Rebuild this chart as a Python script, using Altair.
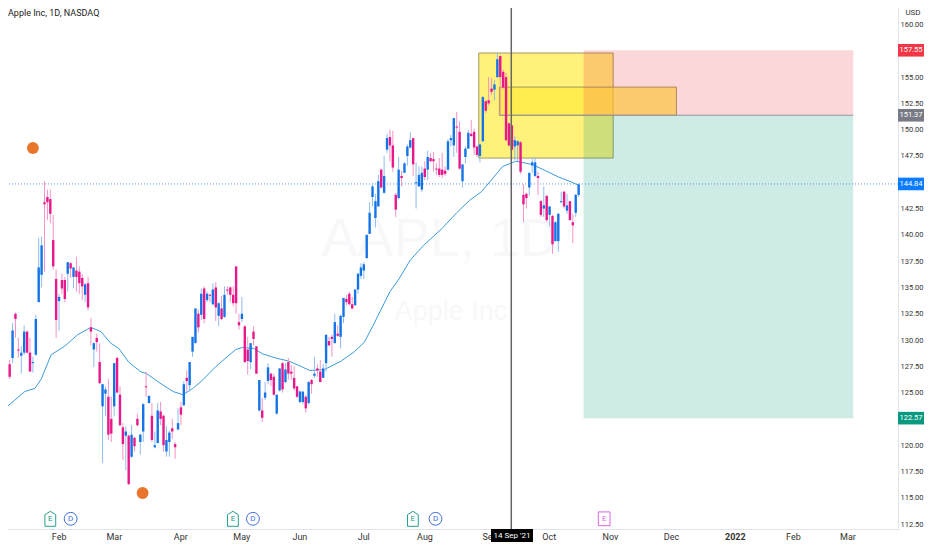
import altair as alt
import pandas as pd

# (open, high, low, close) of each daily bar
ohlc = [
(128.9,131.6,127.9,131.0),(127.7,128.1,126.3,126.5),(128.3,131.6,127.8,130.9),(132.5,132.6,130.2,132.0),
(129.1,130.2,128.3,129.0),(128.5,129.4,126.8,128.8),(128.8,131.4,128.6,130.8),(130.8,130.9,128.7,128.8),
(128.8,130.2,127.0,127.0),(127.8,128.4,126.9,127.9),(128.6,132.4,128.5,132.0),(133.6,139.7,133.6,136.9),
(136.2,139.8,135.0,139.0),(143.1,145.1,136.5,142.9),(143.6,144.3,141.4,143.1),(143.4,144.3,141.1,142.0),
(139.5,141.9,136.7,137.0),(135.8,136.7,130.2,131.9),(133.7,134.4,130.9,134.1),(135.7,136.3,134.4,134.9),
(135.7,136.0,133.6,133.9),(136.3,137.4,134.6,137.4),(137.3,137.4,135.9,136.8),(136.0,136.9,134.9,136.9),
(136.6,137.9,134.6,136.0),(136.5,137.0,134.4,135.4),(135.9,136.3,133.8,135.1),(134.3,135.4,133.6,135.3),
(135.4,136.0,132.8,133.1),(131.2,132.1,129.5,130.8),(129.1,129.8,127.4,129.7),(130.2,130.6,128.9,129.8),
(127.9,129.7,125.8,125.9),(123.7,125.8,118.3,125.8),(124.9,125.6,122.8,125.3),(124.6,126.3,120.5,121.0),
(122.5,124.6,120.3,121.1),(123.7,127.8,122.8,127.8),(128.3,128.4,125.0,125.0),(124.8,125.6,121.8,121.9),
(121.7,122.1,118.6,120.1),(120.9,121.8,117.6,121.3),(120.9,121.0,116.2,116.3),(118.9,121.9,118.8,121.0),
(120.7,120.8,119.4,119.9),(122.5,123.0,121.8,121.9),(120.3,121.1,119.1,121.0),(121.3,124.0,120.3,123.9),
(125.6,127.0,124.6,125.5),(124.0,124.7,124.0,124.7),(122.8,124.0,120.3,120.5),(119.8,121.3,119.7,120.0),
(120.2,124.0,120.2,123.3),(123.2,124.1,121.9,122.5),(122.8,122.9,119.4,120.0),(119.4,121.8,118.9,120.5),
(120.3,121.4,118.9,121.2),(121.6,122.5,120.6,121.3),(120.1,120.3,118.7,119.8),(121.5,123.5,121.4,122.1),
(123.6,124.1,121.9,122.9),(123.8,126.1,123.7,125.8),(126.4,127.1,125.1,126.1),(125.7,127.9,125.1,127.9),
(128.9,130.3,128.4,130.3),(129.7,133.0,129.7,133.0),(132.5,132.9,130.7,131.2),(132.4,134.9,131.9,134.4),
(134.9,135.1,131.6,132.0),(133.8,134.6,133.6,134.4),(134.3,134.4,133.6,134.2),(133.4,135.4,133.3,134.8),
(135.0,135.5,131.8,133.1),(132.3,133.6,131.3,133.5),(133.0,134.2,131.9,132.0),(132.2,135.1,132.1,134.3),
(134.8,135.1,134.3,134.7),(135.0,135.1,133.6,134.3),(134.3,135.1,133.2,133.5),(137.0,137.0,132.5,133.5),
(131.7,132.5,131.0,131.4),(132.0,134.1,131.7,132.5),(131.3,131.4,127.8,127.9),(129.1,130.3,126.7,128.0),
(127.9,129.7,127.2,129.7),(130.8,131.3,129.5,130.1),(129.4,129.4,126.8,126.8),(123.3,126.2,123.2,126.2),
(123.3,124.5,122.2,122.6),(124.5,126.0,124.3,125.0),(126.1,127.8,125.8,127.4),(126.8,126.9,125.6,126.2),
(126.5,126.8,124.7,124.8),(123.0,124.8,122.9,124.8),(125.2,127.3,125.1,127.3),(127.8,127.9,125.0,125.3),
(126.0,127.8,125.9,127.2),(127.9,128.3,126.2,126.8),(127.0,127.6,126.2,126.8),(126.4,127.5,125.2,125.4),
(125.6,125.6,124.5,124.6),(124.1,125.2,124.0,125.1),(124.1,125.1,123.9,125.1),(124.6,124.8,123.1,123.5),
(124.0,126.1,123.9,126.0),(126.2,126.3,124.9,125.8),(126.6,128.4,126.4,126.8),(127.3,127.7,126.5,127.1),
(127.0,128.1,126.0,126.0),(126.4,127.7,126.4,127.3),(127.8,130.5,127.0,130.5),(129.9,130.3,129.4,129.5),
(130.3,130.5,128.4,130.1),(129.7,132.5,129.7,131.7),(130.6,131.4,130.3,130.4),(130.3,132.4,129.2,132.3),
(132.2,134.0,131.6,134.0),(133.9,134.3,133.3,133.6),(134.4,134.6,133.3,133.4),(133.4,134.1,132.9,133.0),
(133.3,134.8,133.3,134.8),(134.8,136.4,134.4,136.3),(136.1,137.3,135.8,136.9),(136.6,137.4,135.8,137.2),
(137.8,140.0,137.7,140.0),(140.1,143.1,140.1,142.1),(143.6,144.9,142.7,144.6),(141.6,143.9,140.7,143.2),
(142.7,145.7,142.7,145.1),(146.2,146.3,144.4,144.5),(144.0,147.5,143.9,145.6),(148.1,149.6,147.8,149.2),
(149.3,150.0,147.0,148.5),(148.5,149.9,146.0,146.4),(143.8,144.0,141.7,142.4),(143.5,147.4,143.4,146.2),
(145.6,146.1,144.6,145.4),(145.9,146.9,145.9,146.8),(147.5,148.6,146.6,148.4),(148.3,149.8,148.2,149.0),
(149.2,149.2,145.6,146.7),(144.9,146.9,142.5,145.0),(144.6,146.5,144.6,145.7),(144.3,146.5,144.1,145.9),
(146.3,147.0,145.2,145.5),(146.2,148.0,145.2,147.4),(147.3,147.8,146.9,147.0),(147.2,147.9,146.0,147.0),
(146.3,146.8,145.7,146.2),(146.3,147.3,145.5,145.7),(146.2,147.8,145.4,145.7),(146.1,146.5,145.6,145.8),
(146.2,149.1,146.1,148.9),(149.0,149.5,148.4,149.2),(148.5,151.1,147.4,151.1),(150.3,151.7,147.8,150.2),
(149.8,150.8,146.2,146.3),(145.1,146.7,144.5,146.7),(147.4,148.4,146.8,148.2),(148.2,150.0,148.2,149.7),
(149.6,150.9,149.3,149.4),(149.8,150.1,147.6,148.3),(148.4,148.5,147.4,147.6),(147.5,148.7,146.9,148.6),
(148.9,153.2,148.8,153.1),(152.7,152.8,151.6,151.8),(152.8,155.0,152.3,152.5),(153.9,154.9,153.3,153.6),
(153.8,154.7,152.8,154.3),(155.0,157.3,154.9,156.7),(157.0,157.1,151.4,155.0),(155.5,155.7,153.9,154.0),
(155.0,155.4,148.9,149.0),(150.6,150.7,148.4,148.5),(150.4,150.4,148.1,148.1),(148.4,149.4,147.1,149.0),
(148.5,149.0,147.0,148.9),(148.8,148.9,145.8,146.0),(143.8,144.8,141.2,142.9),(143.9,144.0,142.5,143.5),
(144.5,145.9,143.7,145.9),(146.6,147.3,145.9,146.9),(145.6,147.4,145.5,146.9),(145.6,146.0,143.8,145.4),
(143.2,143.3,141.7,141.9),(142.5,144.6,141.7,142.8),(143.7,143.8,141.2,141.4),(141.9,142.7,140.8,142.7),
(141.8,141.9,138.2,139.1),(139.4,141.3,139.4,141.2),(139.4,142.1,138.4,142.0),(143.1,144.1,143.0,143.2),
(144.1,144.2,142.5,142.7),(142.3,143.9,142.0,142.8),(143.2,143.2,141.4,141.4),(141.2,142.0,139.2,140.9),
(142.1,143.9,141.7,143.8),(143.8,144.9,143.6,144.8),
]

ma_bar = [-0.6,2.8,6.2,9.7,11.9,15.3,19.9,24.4,29,32.4,35.8,38.6,42,46,48.2,52.8,57.3,60.7,64.1,67.5,
          72.1,75.5,78.9,81.2,85.1,88,92.5,97.1,100.5,104.4,109.5,115.2,119.8,123.2,126.6,132,135.1,139,
          143.6,149.9,155,159.5,163.5,166.9,170.8,175.3,180.9,185.6,190.1,194.7,197]
ma_val = [123.5,124.3,125.1,125.4,126.3,128.6,129.4,130.5,131.2,130.8,129.7,129.2,127.9,127.0,126.8,125.9,
          125.1,124.8,125.4,126.2,127.5,128.3,129.1,129.3,129.2,128.7,128.3,128.0,127.6,127.1,127.2,128.0,
          128.9,129.8,131.6,134.6,135.8,137.6,139.0,140.6,142.1,143.3,144.1,145.2,146.5,147.0,146.7,146.1,
          145.5,145.0,144.7]

month_bars = [17.9,36.9,59.8,80.8,100.8,122.8,143.9,166.3,186.7,207.8,228.8,250.8,270.8,289.6]
month_labels = ["Feb","Mar","Apr","May","Jun","Jul","Aug","Sep","Oct","Nov","Dec","2022","Feb","Mar"]
price_ticks = [112.5+2.5*k for k in range(20)]

target_top = 157.55
entry = 151.37
stop = 122.57
last = 144.84
yellow_boxes = [(162.6,208.9,157.29,147.3),(169.7,230.7,154.05,151.37)]
zones = [(198.7,291.6,157.55,151.37,"#f23645"),(198.7,291.6,151.37,122.57,"#089981")]
cursor_bar = 173.8
dots_bar = [9.0,46.8]
dots_price = [148.26,115.45]
earn_bars = [15.0,77.9,139.9]
div_bars = [22.0,84.8,147.7]
next_earn_bar = [205.8]
marker_price = 113.0
tags = [(157.55,"#f23645"),(151.37,"#787b86"),(144.84,"#0a7cff"),(122.57,"#089981")]

FONT = "Roboto"
xs = alt.Scale(domain=[2.146,305.3], nice=False, zero=False)
ys = alt.Scale(domain=[112.03,161.57], nice=False, zero=False)

x_axis = alt.Axis(values=month_bars, title=None, grid=False, ticks=False, domainColor="#e0e3eb",
    labelExpr="%s[indexof(%s, datum.value)]" % (month_labels, month_bars),
    labelFont=FONT, labelFontSize=9, labelColor="#333333", labelPadding=3, labelOverlap=False,
    labelFlush=False, labelBound=False,
    labelFontWeight={"condition":{"test":"datum.value == 250.8","value":"bold"},"value":"normal"})
y_axis = alt.Axis(values=price_ticks, title=None, grid=False, ticks=False, orient="right", format=".2f",
    domainColor="#e0e3eb", labelFont=FONT, labelFontSize=7.5, labelColor="#333333", labelPadding=2,
    labelOverlap=False, labelFlush=False, labelBound=False)

def X(f): return alt.X(f, type="quantitative", scale=xs, axis=x_axis)
def X2(f): return alt.X2(f)
def Y(f): return alt.Y(f, type="quantitative", scale=ys, axis=y_axis)

bars = pd.DataFrame(ohlc, columns=["open","high","low","close"])
bars["bar"] = range(len(bars))
is_up = "datum.close >= datum.open"

wm = pd.DataFrame({"bar":[149.3,153.0],"p":[139.5,132.7],"t":["AAPL, 1D","Apple Inc"],"s":[54,27]})
base = alt.Chart(wm).mark_text(font="Liberation Sans", color="#f8f8fa", align="center", baseline="middle").encode(
    x=X("bar"), y=Y("p"), text="t:N", size=alt.Size("s:Q", scale=None, legend=None))

yb = pd.DataFrame(yellow_boxes, columns=["a","b","t","u"])
yellow = alt.Chart(yb).mark_rect(fill="#ffeb3b", fillOpacity=0.68, stroke="#8f8a58", strokeWidth=1, strokeOpacity=0.85).encode(
    x=X("a"), x2=X2("b"), y=Y("t"), y2=alt.Y2("u"))
zd = pd.DataFrame(zones, columns=["a","b","t","u","c"])
zone = alt.Chart(zd).mark_rect(opacity=0.2).encode(
    x=X("a"), x2=X2("b"), y=Y("t"), y2=alt.Y2("u"), color=alt.Color("c:N", scale=None, legend=None))
entry_line = alt.Chart(pd.DataFrame({"a":[169.7],"b":[291.6],"p":[entry]})).mark_rule(color="#9598a1", size=1).encode(
    x=X("a"), x2=X2("b"), y=Y("p"))
last_line = alt.Chart(pd.DataFrame({"p":[last]})).mark_rule(color="#2979d8", size=1, strokeDash=[1,2], opacity=0.75).encode(y=Y("p"))

wick = alt.Chart(bars).mark_rule(size=1, clip=True).encode(
    x=X("bar"), y=Y("low"), y2=alt.Y2("high"),
    color=alt.condition(is_up, alt.value("#8dbcf2"), alt.value("#f393c6")))
body = alt.Chart(bars).mark_bar(size=2.4, clip=True).encode(
    x=X("bar"), y=Y("open"), y2=alt.Y2("close"),
    color=alt.condition(is_up, alt.value("#1474e6"), alt.value("#e8178a")))
ma = alt.Chart(pd.DataFrame({"bar":ma_bar,"v":ma_val})).mark_line(color="#3d9bdc", strokeWidth=1, clip=True).encode(
    x=X("bar"), y=Y("v"))

cursor = alt.Chart(pd.DataFrame({"bar":[cursor_bar]})).mark_rule(color="#666666", size=1.5).encode(x=X("bar"))
dots = alt.Chart(pd.DataFrame({"bar":dots_bar,"p":dots_price})).mark_circle(color="#e8752a", opacity=1, size=140).encode(
    x=X("bar"), y=Y("p"))

PENT = "M0,-1 L0.72,-0.55 L0.72,1 L-0.72,1 L-0.72,-0.55 Z"
SQR = "M-0.85,-1 L0.85,-1 L0.85,1 L-0.85,1 Z"
def marker(xv, shape, sz, col, letter):
    d = pd.DataFrame({"bar":xv,"p":[marker_price]*len(xv),"t":[letter]*len(xv)})
    m = alt.Chart(d).mark_point(shape=shape, size=sz, filled=True, fill="white", stroke=col, strokeWidth=1, opacity=1).encode(x=X("bar"), y=Y("p"))
    t = alt.Chart(d).mark_text(font=FONT, fontSize=8, color=col, align="center", baseline="middle").encode(x=X("bar"), y=Y("p"), text="t:N")
    return [m, t]

tag_df = pd.DataFrame(tags, columns=["p","c"])
tag_df["t"] = tag_df["p"].map(lambda v: "%.2f" % v)
tag_df["a"] = tag_df["p"] + 0.6
tag_df["b"] = tag_df["p"] - 0.6
tag_rect = alt.Chart(tag_df).mark_rect().encode(
    x=alt.value(890), x2=alt.value(916), y=Y("a"), y2=alt.Y2("b"), color=alt.Color("c:N", scale=None, legend=None))
tag_txt = alt.Chart(tag_df).mark_text(font=FONT, fontSize=7.5, color="white", align="center", baseline="middle").encode(
    x=alt.value(903), y=Y("p"), text="t:N")

title = alt.Chart(pd.DataFrame({"t":["Apple Inc, 1D, NASDAQ"]})).mark_text(font=FONT, fontSize=9, color="#222222", align="left", baseline="middle").encode(
    x=alt.value(0), y=alt.value(5), text="t:N")
usd = alt.Chart(pd.DataFrame({"t":["USD"]})).mark_text(font=FONT, fontSize=8, color="#333333", align="center", baseline="middle").encode(
    x=alt.value(905), y=alt.value(5), text="t:N")
date_box = alt.Chart(pd.DataFrame({"t":["14 Sep '21"]})).mark_rect(color="#000000").encode(
    x=alt.value(483), x2=alt.value(525), y=alt.value(521), y2=alt.value(534))
date_txt = alt.Chart(pd.DataFrame({"t":["14 Sep '21"]})).mark_text(font=FONT, fontSize=8, color="white", align="center", baseline="middle").encode(
    x=alt.value(504), y=alt.value(528), text="t:N")

chart = alt.layer(
    base, yellow, zone, entry_line, last_line, ma, wick, body, cursor, dots,
    *marker(earn_bars, PENT, 225, "#26a08a", "E"),
    *marker(div_bars, "circle", 165, "#3f6fdc", "D"),
    *marker(next_earn_bar, SQR, 190, "#d964e0", "E"),
    tag_rect, tag_txt, title, usd, date_box, date_txt,
).properties(
    width=890, height=521,
    padding={"left":0,"top":0,"right":26,"bottom":13},
    autosize=alt.AutoSizeParams(type="none"),
    background="white",
).configure_view(stroke=None)

chart.save("out.html", embed_options={"renderer": "svg", "actions": False})
